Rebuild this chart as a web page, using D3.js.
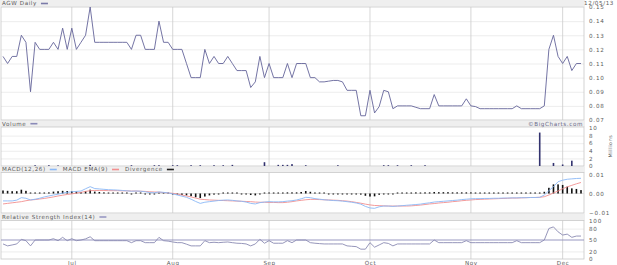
<!DOCTYPE html>
<html><head><meta charset="utf-8">
<script src="https://cdn.jsdelivr.net/npm/d3@7"></script>
<style>
html,body{margin:0;padding:0;background:#fff;}
svg{display:block;font-family:"DejaVu Sans",sans-serif;}
</style></head>
<body>
<svg id="c" width="617" height="265"></svg>
<script>
// ---- data (one value per trading day, index 0..126) ----
const monthLabels = ["Jul","Aug","Sep","Oct","Nov","Dec"];
const monthIndex = [15,37,58,80,102,122];
const priceTicks = [0.07,0.08,0.09,0.10,0.11,0.12,0.13,0.14,0.15];
const volumeTicks = [0,2,4,6,8,10];
const macdTicks = [-0.01,0.00,0.01];
const rsiTicks = [0,20,50,80,100];

const price = [
0.115,0.11,0.115,0.115,0.13,0.125,0.09,0.125,0.12,0.12,
0.12,0.125,0.12,0.135,0.12,0.135,0.12,0.125,0.13,0.15,
0.125,0.125,0.125,0.125,0.125,0.125,0.125,0.125,0.12,0.13,
0.13,0.12,0.12,0.12,0.14,0.125,0.125,0.12,0.12,0.12,
0.11,0.10,0.10,0.10,0.12,0.11,0.115,0.11,0.11,0.115,
0.11,0.105,0.105,0.105,0.093,0.097,0.115,0.10,0.11,0.10,
0.10,0.10,0.11,0.10,0.11,0.11,0.11,0.10,0.10,0.097,
0.097,0.0975,0.098,0.098,0.097,0.091,0.091,0.091,0.073,0.073,
0.091,0.075,0.0795,0.091,0.09,0.078,0.08,0.08,0.08,0.08,
0.079,0.078,0.078,0.078,0.088,0.08,0.08,0.08,0.08,0.08,
0.08,0.085,0.08,0.0795,0.078,0.078,0.078,0.078,0.078,0.078,
0.078,0.078,0.08,0.078,0.078,0.078,0.078,0.078,0.08,0.12,
0.13,0.115,0.11,0.115,0.105,0.11,0.11];

const volume = [
0,0,0,0,0,0,0,0.2,0,0,
0.2,0,0.15,0,0,0,0,0,0,0.3,
0,0,0,0,0,0,0,0,0.2,0,
0,0,0,0.2,0.2,0,0,0.2,0.2,0,
0,0.2,0,0.2,0,0,0.2,0,0.2,0,
0.3,0,0,0,0,0,0,1.0,0,0,
0.3,0.3,0.3,0.5,0,0,0.2,0,0,0,
0,0,0,0.2,0,0,0,0,0,0,
0,0,0,0.2,0.2,0,0.2,0,0,0.2,
0,0,0.2,0,0,0,0,0,0,0,
0,0,0,0,0,0,0,0,0,0,
0,0,0,0,0,0,0,8.8,0,0,
0.8,0,0.4,0,1.4,0,0];

const macd = [
-0.0039,-0.0039,-0.0039,-0.0035,-0.0022,-0.0025,-0.0034,-0.0030,-0.0025,-0.0018,
-0.0013,-0.0008,-0.0004,0.0002,0.0006,0.0009,0.0011,0.0013,0.0025,0.0036,
0.0026,0.0024,0.0022,0.0020,0.0019,0.0018,0.0016,0.0014,0.0012,0.0013,
0.0012,0.0009,0.0005,0.0004,0.0008,0.0006,0.0003,-0.0002,-0.0008,-0.0014,
-0.0020,-0.0030,-0.0042,-0.0052,-0.0046,-0.0043,-0.0040,-0.0037,-0.0035,-0.0034,
-0.0036,-0.0039,-0.0041,-0.0045,-0.0052,-0.0055,-0.0048,-0.0045,-0.0043,-0.0044,
-0.0044,-0.0043,-0.0040,-0.0038,-0.0034,-0.0028,-0.0020,-0.0022,-0.0027,-0.0030,
-0.0033,-0.0035,-0.0037,-0.0038,-0.0040,-0.0043,-0.0046,-0.0050,-0.0056,-0.0068,
-0.0076,-0.0078,-0.0070,-0.0066,-0.0066,-0.0068,-0.0066,-0.0064,-0.0062,-0.0060,
-0.0058,-0.0056,-0.0052,-0.0049,-0.0045,-0.0043,-0.0041,-0.0039,-0.0037,-0.0035,
-0.0032,-0.0030,-0.0028,-0.0027,-0.0027,-0.0026,-0.0026,-0.0025,-0.0025,-0.0024,
-0.0024,-0.0023,-0.0023,-0.0022,-0.0022,-0.0021,-0.0021,-0.0020,-0.0008,0.0015,
0.0036,0.0062,0.0070,0.0075,0.0077,0.0079,0.0080];

const signal = [
-0.0055,-0.0052,-0.0049,-0.0046,-0.0043,-0.0038,-0.0034,-0.0032,-0.0029,-0.0026,
-0.0022,-0.0018,-0.0013,-0.0009,-0.0005,-0.0002,0.0002,0.0006,0.0011,0.0015,
0.0016,0.0016,0.0016,0.0015,0.0015,0.0015,0.0014,0.0014,0.0013,0.0013,
0.0012,0.0011,0.0009,0.0008,0.0007,0.0005,0.0003,0.0001,-0.0003,-0.0008,
-0.0013,-0.0018,-0.0024,-0.0030,-0.0032,-0.0034,-0.0035,-0.0036,-0.0037,-0.0038,
-0.0039,-0.0040,-0.0041,-0.0042,-0.0043,-0.0045,-0.0046,-0.0046,-0.0047,-0.0047,
-0.0048,-0.0048,-0.0046,-0.0043,-0.0039,-0.0036,-0.0033,-0.0031,-0.0031,-0.0032,
-0.0033,-0.0034,-0.0035,-0.0036,-0.0038,-0.0040,-0.0043,-0.0047,-0.0051,-0.0056,
-0.0060,-0.0063,-0.0064,-0.0065,-0.0066,-0.0066,-0.0066,-0.0066,-0.0066,-0.0065,
-0.0063,-0.0061,-0.0058,-0.0055,-0.0053,-0.0050,-0.0048,-0.0046,-0.0043,-0.0041,
-0.0038,-0.0036,-0.0034,-0.0032,-0.0031,-0.0030,-0.0029,-0.0028,-0.0027,-0.0026,
-0.0025,-0.0024,-0.0024,-0.0023,-0.0022,-0.0021,-0.0021,-0.0020,-0.0017,-0.0008,
0.0003,0.0013,0.0025,0.0035,0.0043,0.0051,0.0058];

const divergence = [
0.0016,0.0014,0.0012,0.0012,0.0020,0.0014,0.0002,0.0003,0.0004,0.0004,
0.0006,0.0010,0.0012,0.0014,0.0013,0.0012,0.0010,0.0008,0.0012,0.0020,
0.0010,0.0008,0.0006,0.0005,0.0004,0.0003,0.0002,0.0001,-0.0001,0.0001,
0.0000,-0.0001,-0.0003,-0.0003,0.0002,0.0001,0.0000,-0.0003,-0.0006,-0.0008,
-0.0010,-0.0014,-0.0020,-0.0024,-0.0016,-0.0010,-0.0006,-0.0002,0.0001,0.0003,
0.0002,0.0000,-0.0001,-0.0003,-0.0008,-0.0010,-0.0002,0.0001,0.0003,0.0002,
0.0003,0.0004,0.0006,0.0006,0.0006,0.0008,0.0013,0.0009,0.0004,0.0002,
0.0000,-0.0001,-0.0002,-0.0002,-0.0002,-0.0003,-0.0004,-0.0004,-0.0006,-0.0012,
-0.0016,-0.0015,-0.0007,-0.0002,-0.0001,-0.0002,0.0000,0.0002,0.0004,0.0005,
0.0006,0.0005,0.0006,0.0006,0.0008,0.0007,0.0007,0.0007,0.0006,0.0006,
0.0006,0.0006,0.0006,0.0005,0.0004,0.0004,0.0003,0.0003,0.0002,0.0002,
0.0001,0.0001,0.0001,0.0001,0.0000,0.0000,0.0000,0.0000,0.0009,0.0030,
0.0048,0.0048,0.0045,0.0036,0.0027,0.0024,0.0018];

const rsi = [
39.6,34.5,37,39.6,51.8,48.2,34.5,50,50,50,
50,53.4,48.2,57,48.2,53.4,48.2,50,53,58.5,
48.2,48.2,48.2,48.2,48.2,48.2,48.2,48.2,43,48.2,
48.2,43,43,43,57,48.2,47,44.8,43,43,
39,34.5,34.5,34.5,48.2,43,44,43,44,44.8,
43,41.5,41,39.6,34.5,39.6,51.8,41.5,48.2,41.5,
41.5,41.5,48.2,43,50,50,50,43,41.5,40.5,
39.6,39.6,39.6,39.6,39.6,34.5,33.5,32.6,25.9,25.9,
43,31.1,37,43,41,34.5,39.6,39.6,39.6,39.6,
39.6,39.6,39.6,39.6,50,43,43,43,43,43,
43,48.2,43,43,43,43,43,43,43,43,
43,43,48.2,43,43,43,43,43,50,80.3,
84.5,71.5,63,65.5,57,60.4,60.4];

// ---- layout ----
const svg = d3.select("#c");
const L = 1, R = 584;
const x = d3.scaleLinear().domain([0, price.length - 1]).range([3, 581]);

const panels = {
  price: {hdr:[0,6.5], top:7, bot:120},
  vol:   {hdr:[120.5,127], top:127, bot:166},
  macd:  {hdr:[166.5,172.5], top:172.5, bot:213},
  rsi:   {hdr:[213.5,220.5], top:220.5, bot:259}
};
const yP = d3.scaleLinear().domain([0.07,0.15]).range([120,7]);
const yV = d3.scaleLinear().domain([0,10]).range([166,128]);
const yM = d3.scaleLinear().domain([-0.01,0.01]).range([212.5,174.5]);
const yR = d3.scaleLinear().domain([0,100]).range([259,221]);

const fontSize = 5.6;
const txt = (sel) => sel.attr("font-size", fontSize).attr("fill", "#5a5a5a").attr("letter-spacing", 0.6);

Object.values(panels).forEach(p => {
  svg.append("rect").attr("x", 0).attr("y", p.hdr[0]).attr("width", R + 1).attr("height", p.hdr[1] - p.hdr[0])
    .attr("fill", "#efefef");
  svg.append("rect").attr("x", L).attr("y", p.top).attr("width", R - L).attr("height", p.bot - p.top)
    .attr("fill", "#fff");
});

function hgrid(scale, ticks, color) {
  svg.append("g").attr("transform", `translate(${L},0)`)
    .call(d3.axisRight(scale).tickValues(ticks).tickSize(R - L).tickFormat(""))
    .call(g => g.select(".domain").remove())
    .call(g => g.selectAll("line").attr("stroke", color).attr("stroke-width", 0.8));
}
hgrid(yP, priceTicks.slice(1, -1), "#e8e8e8");
hgrid(yV, volumeTicks.slice(1, -1), "#e8e8e8");
hgrid(yR, [20, 80], "#e8e8e8");

Object.values(panels).forEach(p => {
  svg.append("g").selectAll("line").data(monthIndex).join("line")
    .attr("x1", d => x(d)).attr("x2", d => x(d))
    .attr("y1", p.top).attr("y2", p.bot)
    .attr("stroke", "#cccccc").attr("stroke-width", 0.8);
});

Object.values(panels).forEach(p => {
  svg.append("rect").attr("x", L).attr("y", p.top).attr("width", R - L).attr("height", p.bot - p.top)
    .attr("fill", "none").attr("stroke", "#c8c8c8").attr("stroke-width", 0.8);
});

function raxis(scale, ticks, fmt) {
  svg.append("g").attr("transform", `translate(${R + 3},0)`)
    .call(d3.axisRight(scale).tickValues(ticks).tickSize(0).tickPadding(2).tickFormat(fmt))
    .call(g => g.select(".domain").remove())
    .call(g => g.selectAll("text").attr("font-size", fontSize).attr("fill", "#5a5a5a")
      .attr("letter-spacing", 0.8).attr("font-family", "DejaVu Sans"));
}
raxis(yP, priceTicks, d3.format(".2f"));
raxis(yV, volumeTicks, d3.format("d"));
raxis(yM, macdTicks, d3.format(".2f"));
raxis(yR, rsiTicks, d3.format("d"));

// ---- price line ----
svg.append("path").datum(price)
  .attr("fill", "none").attr("stroke", "#64649a").attr("stroke-width", 0.9)
  .attr("d", d3.line().x((d, i) => x(i)).y(d => yP(d)));

// ---- volume bars ----
svg.append("g").selectAll("rect").data(volume).join("rect")
  .attr("x", (d, i) => x(i) - 0.8).attr("width", 1.6)
  .attr("y", d => yV(d)).attr("height", d => yV(0) - yV(d))
  .attr("fill", "#33336f");

// ---- MACD ----
svg.append("line").attr("x1", L).attr("x2", R).attr("y1", yM(0)).attr("y2", yM(0))
  .attr("stroke", "#d8d8d8").attr("stroke-width", 0.8);
svg.append("g").selectAll("rect").data(divergence).join("rect")
  .attr("x", (d, i) => x(i) - 0.8).attr("width", 1.6)
  .attr("y", d => d >= 0 ? yM(d) - (Math.abs(yM(d) - yM(0)) < 1 ? 1 - Math.abs(yM(d) - yM(0)) : 0) : yM(0))
  .attr("height", d => Math.max(1, Math.abs(yM(d) - yM(0))))
  .attr("fill", "#111");
svg.append("path").datum(signal)
  .attr("fill", "none").attr("stroke", "#f29090").attr("stroke-width", 0.9)
  .attr("d", d3.line().x((d, i) => x(i)).y(d => yM(d)));
svg.append("path").datum(macd)
  .attr("fill", "none").attr("stroke", "#8ab8f6").attr("stroke-width", 0.9)
  .attr("d", d3.line().x((d, i) => x(i)).y(d => yM(d)));

// ---- RSI ----
svg.append("line").attr("x1", L).attr("x2", R).attr("y1", yR(50)).attr("y2", yR(50))
  .attr("stroke", "#8c8cba").attr("stroke-width", 0.9);
svg.append("path").datum(rsi)
  .attr("fill", "none").attr("stroke", "#8a8ab2").attr("stroke-width", 0.9)
  .attr("d", d3.line().x((d, i) => x(i)).y(d => yR(d)));

// ---- header labels and swatches ----
function header(y, items) {
  let cx = 2;
  items.forEach(it => {
    const t = svg.append("text").attr("x", cx).attr("y", y).text(it.label).call(txt);
    const w = t.node().getComputedTextLength();
    cx += w + 4;
    svg.append("rect").attr("x", cx).attr("y", y - 2.6).attr("width", 7).attr("height", 1.6).attr("fill", it.color);
    cx += 13;
  });
}
header(5.3, [{label: "AGW Daily", color: "#7a7aa8"}]);
header(125.5, [{label: "Volume", color: "#8a8ab8"}]);
header(171.3, [{label: "MACD(12,26)", color: "#8ab8f6"}, {label: "MACD EMA(9)", color: "#f29090"}, {label: "Divergence", color: "#222"}]);
header(218.8, [{label: "Relative Strength Index(14)", color: "#9a9ac4"}]);

svg.append("text").attr("x", 614).attr("y", 4.8).attr("text-anchor", "end").text("12/05/13").call(txt);
svg.append("text").attr("x", R - 1).attr("y", 125.5).attr("text-anchor", "end").text("©BigCharts.com")
  .call(txt).attr("fill", "#6a6a8a");
svg.append("text").attr("transform", "translate(612,146) rotate(-90)").attr("text-anchor", "middle")
  .text("Millions").call(txt).attr("font-size", 4.8);

svg.append("g").attr("transform", `translate(0,${panels.rsi.bot})`)
  .call(d3.axisBottom(x).tickValues(monthIndex).tickSize(0).tickPadding(2.5)
    .tickFormat((d, i) => monthLabels[i]))
  .call(g => g.select(".domain").remove())
  .call(g => g.selectAll("text").attr("font-size", fontSize).attr("fill", "#5a5a5a")
    .attr("letter-spacing", 0.6).attr("font-family", "DejaVu Sans"));
</script>
</body></html>
